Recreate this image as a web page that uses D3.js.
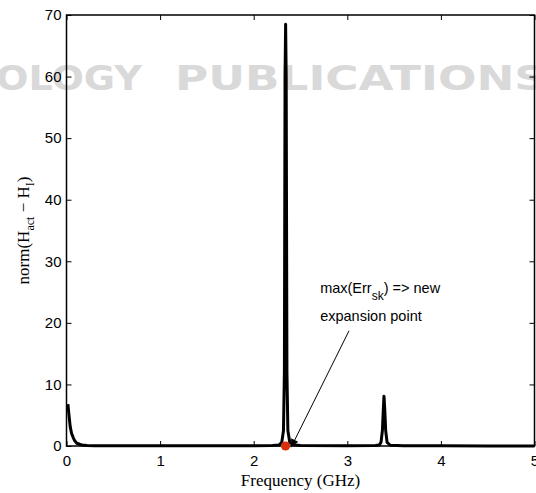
<!DOCTYPE html>
<html>
<head>
<meta charset="utf-8">
<script src="https://cdn.jsdelivr.net/npm/d3@7"></script>
<style>
  body { margin: 0; background: #fff; }
  svg { display: block; }
  .tick text { font-family: "Liberation Sans", Arial, sans-serif; font-size: 15px; fill: #000; }
  .tick line { stroke: #000; stroke-width: 1; }
</style>
</head>
<body>
<div id="chart"></div>
<script>
// frequency sweep (GHz) and the error norm
var freqGHz = [0.015, 0.025, 0.04, 0.055, 0.075, 0.09, 0.11, 0.14, 0.165, 0.22, 0.3, 0.45, 0.7, 1.0, 1.5, 2.0, 2.2,
  2.27, 2.30, 2.318, 2.328, 2.335, 2.341, 2.347, 2.355, 2.365, 2.385, 2.42, 2.5, 3.0, 3.3,
  3.34, 3.36, 3.375, 3.385, 3.392, 3.40, 3.41, 3.425, 3.46, 3.6, 4.0, 4.5, 5.0];
var errNorm = [6.8, 5.2, 3.1, 2.0, 1.25, 0.8, 0.45, 0.28, 0.17, 0.1, 0.06, 0.04, 0.03, 0.03, 0.03, 0.05, 0.08,
  0.15, 0.6, 2.5, 12, 60, 68.5, 60, 12, 2.5, 0.6, 0.2, 0.1, 0.05, 0.08,
  0.15, 0.6, 2.5, 6, 8.1, 6, 2.5, 0.6, 0.12, 0.05, 0.03, 0.02, 0.02];

var xTicks = [0, 1, 2, 3, 4, 5];
var yTicks = [0, 10, 20, 30, 40, 50, 60, 70];

// chosen expansion point (max error) and annotation
var expPoint = [2.34, 0];
var noteLines = ["max(Err", "expansion point"];
var noteAt = [2.71, 24.85, 20.3];
var arrowFrom = [3.018, 18.7];
var arrowTo = [2.40, -0.2];

var W = 536, H = 493;
var pad = { left: 66.5, right: 1.5, top: 15, bottom: 47 };

var svg = d3.select('#chart').append('svg')
  .attr('width', W)
  .attr('height', H);

// faint publisher watermark behind the chart
var wm = svg.append('g').attr('fill', '#d9d9d9')
  .style('font-family', '"DejaVu Sans", sans-serif')
  .style('font-weight', 'bold')
  .style('font-size', '34px');
wm.append('text').attr('x', -4).attr('y', 90).attr('textLength', 146).attr('lengthAdjust', 'spacingAndGlyphs').text('OLOGY');
wm.append('text').attr('x', 175).attr('y', 90).attr('textLength', 372).attr('lengthAdjust', 'spacingAndGlyphs').text('PUBLICATIONS');

var x = d3.scaleLinear().domain([0, 5]).range([pad.left, W - pad.right]);
var y = d3.scaleLinear().domain([0, 70]).range([H - pad.bottom, pad.top]);
var fmt = d3.format('d');

svg.append('g')
  .attr('transform', 'translate(' + pad.left + ',0)')
  .call(d3.axisLeft(y).tickValues(yTicks).tickFormat(fmt).tickSizeInner(-5).tickSizeOuter(0).tickPadding(5))
  .call(function (g) { g.select('.domain').remove(); });

svg.append('g')
  .attr('transform', 'translate(0,' + (H - pad.bottom) + ')')
  .call(d3.axisBottom(x).tickValues(xTicks).tickFormat(fmt).tickSizeInner(-5).tickSizeOuter(0).tickPadding(9))
  .call(function (g) { g.select('.domain').remove(); });

svg.append('g')
  .attr('transform', 'translate(0,' + pad.top + ')')
  .call(d3.axisTop(x).tickValues(xTicks).tickSizeInner(-5).tickSizeOuter(0).tickFormat(''))
  .call(function (g) { g.select('.domain').remove(); });

svg.append('g')
  .attr('transform', 'translate(' + (W - pad.right) + ',0)')
  .call(d3.axisRight(y).tickValues(yTicks).tickSizeInner(-5).tickSizeOuter(0).tickFormat(''))
  .call(function (g) { g.select('.domain').remove(); });

svg.append('rect')
  .attr('x', pad.left).attr('y', pad.top)
  .attr('width', W - pad.right - pad.left)
  .attr('height', H - pad.bottom - pad.top)
  .attr('fill', 'none').attr('stroke', '#000').attr('stroke-width', 1.5);

var line = d3.line()
  .x(function (d, i) { return x(freqGHz[i]); })
  .y(function (d) { return y(d); });

svg.append('path')
  .datum(errNorm)
  .attr('d', line)
  .attr('fill', 'none')
  .attr('stroke', '#000')
  .attr('stroke-width', 3)
  .attr('stroke-linejoin', 'round');

svg.append('circle')
  .attr('cx', x(expPoint[0])).attr('cy', y(expPoint[1]))
  .attr('r', 4.6)
  .attr('fill', '#d8300c');

// arrow
svg.append('defs').append('marker')
  .attr('id', 'arr')
  .attr('viewBox', '0 0 10 10')
  .attr('refX', 10).attr('refY', 5)
  .attr('markerWidth', 11).attr('markerHeight', 8)
  .attr('markerUnits', 'userSpaceOnUse')
  .attr('orient', 'auto')
  .append('path').attr('d', 'M0,0L10,5L0,10z').attr('fill', '#000');

svg.append('line')
  .attr('x1', x(arrowFrom[0])).attr('y1', y(arrowFrom[1]))
  .attr('x2', x(arrowTo[0])).attr('y2', y(arrowTo[1]))
  .attr('stroke', '#000').attr('stroke-width', 1)
  .attr('marker-end', 'url(#arr)');

var note = svg.append('g')
  .style('font-family', '"Liberation Sans", Arial, sans-serif')
  .style('font-size', '14.5px');
var t1 = note.append('text').attr('x', x(noteAt[0])).attr('y', y(noteAt[1]));
t1.append('tspan').text(noteLines[0]);
t1.append('tspan').attr('dy', 7).style('font-size', '12px').text('sk');
t1.append('tspan').attr('dy', -7).text(') => new');
note.append('text').attr('x', x(noteAt[0])).attr('y', y(noteAt[2])).text(noteLines[1]);

// axis titles
svg.append('text')
  .attr('x', (pad.left + W - pad.right) / 2)
  .attr('y', 486)
  .attr('text-anchor', 'middle')
  .style('font-family', '"Liberation Serif", "Times New Roman", serif')
  .style('font-size', '17px')
  .text('Frequency (GHz)');

var yl = svg.append('text')
  .attr('transform', 'translate(29,' + ((pad.top + H - pad.bottom) / 2) + ') rotate(-90)')
  .attr('text-anchor', 'middle')
  .style('font-family', '"Liberation Serif", "Times New Roman", serif')
  .style('font-size', '17px');
yl.append('tspan').text('norm(H');
yl.append('tspan').attr('dy', 5).style('font-size', '12px').text('act');
yl.append('tspan').attr('dy', -5).text(' \u2212 H');
yl.append('tspan').attr('dy', 5).style('font-size', '12px').text('I');
yl.append('tspan').attr('dy', -5).text(')');
</script>
</body>
</html>
